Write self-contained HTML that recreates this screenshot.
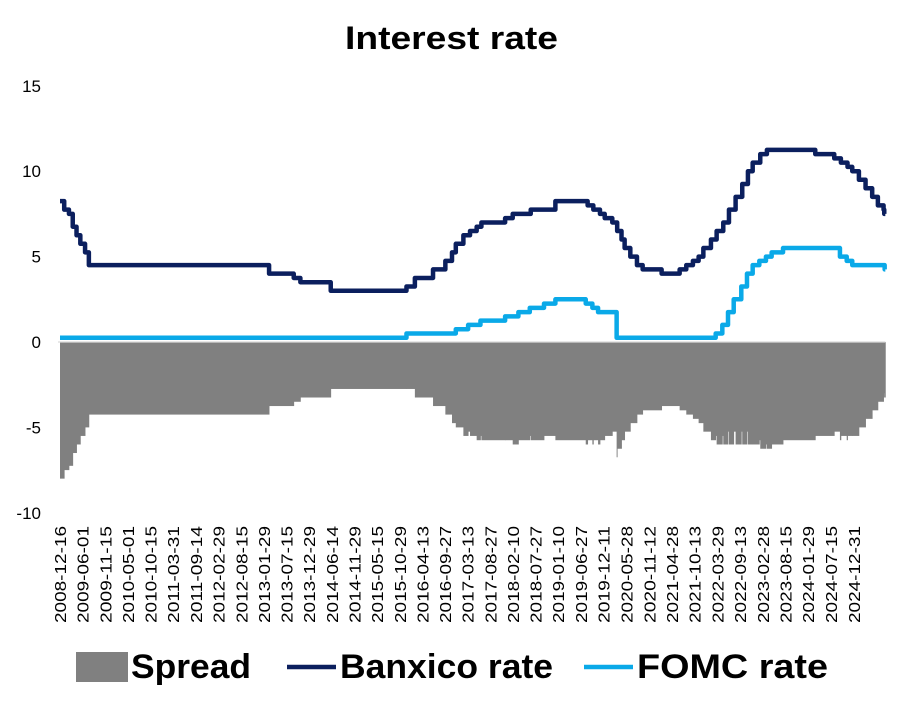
<!DOCTYPE html>
<html><head><meta charset="utf-8">
<style>
body{margin:0;background:#fff;}
svg{display:block;font-family:"Liberation Sans","DejaVu Sans",sans-serif;}
</style></head>
<body>
<svg id="chart" width="905" height="708" viewBox="0 0 905 708" xmlns="http://www.w3.org/2000/svg">
<text x="345" y="49" font-size="32" font-weight="bold" fill="#000" textLength="213" lengthAdjust="spacingAndGlyphs">Interest rate</text>
<g id="yaxis"></g>
<g id="spread"></g>
<g id="lines"></g>
<g id="xaxis"></g>
<g>
  <rect x="76" y="652" width="52" height="30" fill="#808080"/>
  <text x="131" y="678" font-size="34" font-weight="bold" fill="#000" textLength="120" lengthAdjust="spacingAndGlyphs">Spread</text>
  <line x1="287" y1="667" x2="336" y2="667" stroke="#0b1f5e" stroke-width="4.5"/>
  <text x="340" y="678" font-size="34" font-weight="bold" fill="#000" textLength="213" lengthAdjust="spacingAndGlyphs">Banxico rate</text>
  <line x1="584" y1="667" x2="633" y2="667" stroke="#0aa9e8" stroke-width="4.5"/>
  <text x="637" y="678" font-size="34" font-weight="bold" fill="#000" textLength="191" lengthAdjust="spacingAndGlyphs">FOMC rate</text>
</g>
</svg>
<script>
const yTicks=[15,10,5,0,-5,-10];
const yTickLabels=["15","10","5","0","-5","-10"];
const xTickLabels=["2008-12-16","2009-06-01","2009-11-15","2010-05-01","2010-10-15","2011-03-31","2011-09-14","2012-02-29","2012-08-15","2013-01-29","2013-07-15","2013-12-29","2014-06-14","2014-11-29","2015-05-15","2015-10-29","2016-04-13","2016-09-27","2017-03-13","2017-08-27","2018-02-10","2018-07-27","2019-01-10","2019-06-27","2019-12-11","2020-05-28","2020-11-12","2021-04-28","2021-10-13","2022-03-29","2022-09-13","2023-02-28","2023-08-15","2024-01-29","2024-07-15","2024-12-31"];
const banxicoDates=["2008-12-16","2009-01-16","2009-02-20","2009-03-20","2009-04-17","2009-05-15","2009-06-19","2009-07-17","2013-03-08","2013-09-06","2013-10-25","2014-06-06","2015-12-17","2016-02-17","2016-06-30","2016-09-29","2016-11-17","2016-12-15","2017-02-09","2017-03-30","2017-05-18","2017-06-22","2017-12-14","2018-02-08","2018-06-21","2018-12-20","2019-08-15","2019-09-26","2019-11-14","2019-12-19","2020-02-13","2020-03-20","2020-04-21","2020-05-14","2020-06-25","2020-08-13","2020-09-24","2021-02-11","2021-06-24","2021-08-12","2021-09-30","2021-11-11","2021-12-16","2022-02-10","2022-03-24","2022-05-12","2022-06-23","2022-08-11","2022-09-29","2022-11-10","2022-12-15","2023-02-09","2023-03-30","2024-03-21","2024-08-08","2024-09-26","2024-11-14","2024-12-19","2025-02-06","2025-03-27","2025-05-15","2025-06-26","2025-08-07","2025-08-12"];
const banxicoValues=[8.25,7.75,7.5,6.75,6.25,5.75,5.25,4.5,4.0,3.75,3.5,3.0,3.25,3.75,4.25,4.75,5.25,5.75,6.25,6.5,6.75,7.0,7.25,7.5,7.75,8.25,8.0,7.75,7.5,7.25,7.0,6.5,6.0,5.5,5.0,4.5,4.25,4.0,4.25,4.5,4.75,5.0,5.5,6.0,6.5,7.0,7.75,8.5,9.25,10.0,10.5,11.0,11.25,11.0,10.75,10.5,10.25,10.0,9.5,9.0,8.5,8.0,7.75,7.5];
const fomcDates=["2008-12-16","2015-12-17","2016-12-15","2017-03-16","2017-06-15","2017-12-14","2018-03-22","2018-06-14","2018-09-27","2018-12-20","2019-08-01","2019-09-19","2019-10-31","2020-03-16","2022-03-17","2022-05-05","2022-06-16","2022-07-28","2022-09-22","2022-11-03","2022-12-15","2023-02-02","2023-03-23","2023-05-04","2023-07-27","2024-09-19","2024-11-08","2024-12-19","2025-08-15"];
const fomcValues=[0.25,0.5,0.75,1.0,1.25,1.5,1.75,2.0,2.25,2.5,2.25,2.0,1.75,0.25,0.5,1.0,1.75,2.5,3.25,4.0,4.5,4.75,5.0,5.25,5.5,5.0,4.75,4.5,4.25];
const endDate="2025-08-20";

const NS="http://www.w3.org/2000/svg";
const t0=Date.parse("2008-12-16");
function days(d){return (Date.parse(d)-t0)/86400000;}
function xs(d){return 60+days(d)*0.1355;}
function ys(v){return 342-v*17.08;}
function mk(tag,attrs,parent){const e=document.createElementNS(NS,tag);for(const k in attrs)e.setAttribute(k,attrs[k]);parent.appendChild(e);return e;}
function valAt(dates,vals,d){let v=vals[0];const t=Date.parse(d);for(let i=0;i<dates.length;i++){if(Date.parse(dates[i])<=t)v=vals[i];}return v;}

const ya=document.getElementById('yaxis');
yTicks.forEach((v,i)=>{
  const t=mk('text',{x:41,y:ys(v)+6,'font-size':17,fill:'#000','text-anchor':'end'},ya);
  
  
  t.textContent=yTickLabels[i];
});

const breaks=Array.from(new Set(banxicoDates.concat(fomcDates))).sort((a,b)=>Date.parse(a)-Date.parse(b));
breaks.push(endDate);
const sp=document.getElementById('spread');
for(let i=0;i<breaks.length-1;i++){
  const s=valAt(fomcDates,fomcValues,breaks[i])-valAt(banxicoDates,banxicoValues,breaks[i]);
  const x1=xs(breaks[i]),x2=xs(breaks[i+1]);
  const r=mk('rect',{x:x1,y:Math.min(ys(0),ys(s)),width:Math.max(0.5,x2-x1+0.4),height:Math.abs(ys(s)-ys(0)),fill:'#808080'},sp);
  
  
}
const ax0=mk('line',{x1:58,x2:xs(endDate),y1:ys(0),y2:ys(0),stroke:'#d9d9d9','stroke-width':1.2},sp);



function stepPath(dates,vals){
  let d='M'+xs(dates[0])+','+ys(vals[0]);
  for(let i=1;i<dates.length;i++){d+=' H'+xs(dates[i])+' V'+ys(vals[i]);}
  d+=' H'+xs(endDate);
  return d;
}
const ln=document.getElementById('lines');
const pf=mk('path',{d:stepPath(fomcDates,fomcValues),fill:'none',stroke:'#0aa9e8','stroke-width':4.5,'stroke-linejoin':'round'},ln);


const pb=mk('path',{d:stepPath(banxicoDates,banxicoValues),fill:'none',stroke:'#0b1f5e','stroke-width':4.5,'stroke-linejoin':'round'},ln);



const xa=document.getElementById('xaxis');
xTickLabels.forEach(l=>{
  const x=xs(l)+6;
  const t=mk('text',{x:0,y:0,'font-size':16,fill:'#000','text-anchor':'end',textLength:97,lengthAdjust:'spacingAndGlyphs',transform:'translate('+x+',526) rotate(-90)'},xa);
  
  
  t.textContent=l;
});
</script>
</body></html>
